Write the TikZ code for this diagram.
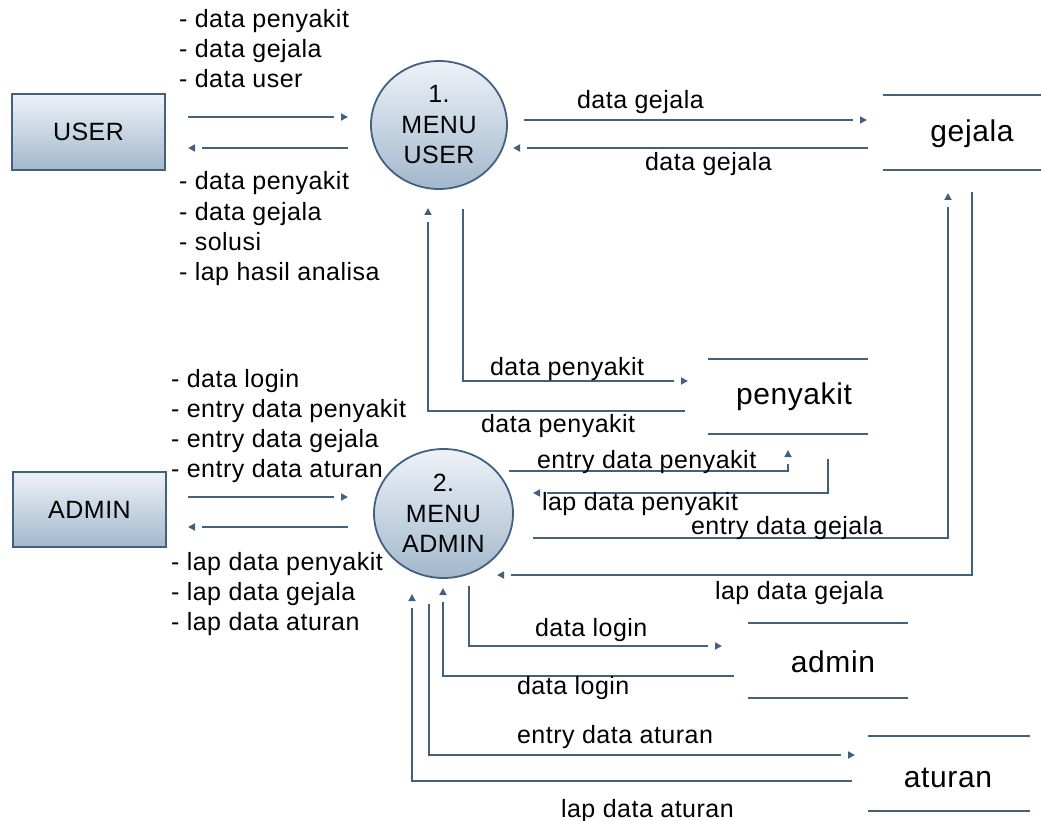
\documentclass[tikz,border=0pt]{standalone}
\usepackage{fontspec}
\setmainfont{Liberation Sans}[LetterSpace=2]
\usetikzlibrary{shapes.geometric,arrows.meta,calc,decorations.markings}
\definecolor{flowline}{HTML}{43617F}
\definecolor{shadetop}{HTML}{EEF2F8}
\definecolor{shadebot}{HTML}{A2B8CC}
\begin{document}
\begin{tikzpicture}[x=1pt,y=-1pt,
  every node/.style={inner sep=0pt, outer sep=0pt},
  entity/.style={rectangle, draw=flowline, line width=1.8pt,
    top color=shadetop, bottom color=shadebot,
    minimum width=153pt, minimum height=76pt,
    font=\fontsize{25}{30}\selectfont},
  process/.style={ellipse, draw=flowline, line width=1.8pt,
    top color=shadetop, bottom color=shadebot, align=center,
    font=\fontsize{25}{30.5}\selectfont},
  storebox/.style={minimum width=160pt, minimum height=75pt},
  storeline/.style={draw=flowline, line width=2.4pt},
  storetext/.style={anchor=base, font=\fontsize{30}{36}\selectfont},
  % a flow line stops short of its end; the tip is set on the end point
  flow/.style={draw=flowline, line width=1.7pt, shorten >=14pt,
    decoration={markings,
      mark=at position 1 with {\arrow[flowline]{Triangle[length=7pt,width=7pt]}}},
    postaction={decorate}},
  lbl/.style={anchor=base west, font=\fontsize{25}{30}\selectfont}
]
\useasboundingbox (0,0) rectangle (1041,821);

% external entities
\node[entity] (user)  at (88.5,132)   {USER};
\node[entity, minimum height=75pt] (admin) at (89.5,509.5) {ADMIN};

% processes
\node[process, minimum width=136pt, minimum height=128pt] (p1) at (439,125) {1.\\MENU\\USER};
\node[process, minimum width=139pt, minimum height=129pt] (p2) at (443.5,513.5) {2.\\MENU\\ADMIN};

% data stores
\node[storebox, minimum width=158pt] (gejala) at (962,132.5) {};
\node[storebox] (penyakit) at (788,396.5) {};
\node[storebox] (adminds) at (828,660.5) {};
\node[storebox, minimum width=162pt] (aturan) at (949,773.5) {};
\foreach \s in {gejala,penyakit,adminds,aturan}{
  \draw[storeline] (\s.north west) -- (\s.north east);
  \draw[storeline] (\s.south west) -- (\s.south east);
}
\node[storetext] (gejala-t)   at (972,142) {gejala};
\node[storetext] (penyakit-t) at (794,404) {penyakit};
\node[storetext] (adminds-t)  at (833,672) {admin};
\node[storetext] (aturan-t)   at (948,787) {aturan};

% flows between USER and process 1
\draw[flow] ($(user.east)+(23,-15)$) -- ($(p1.west)+(-23,-8)$);
\draw[flow] ($(p1.west)+(-23,23)$) -- ($(user.east)+(23,16)$);
% flows between ADMIN and process 2
\draw[flow] ($(admin.east)+(22,-12.5)$) -- ($(p2.west)+(-26,-16.5)$);
\draw[flow] ($(p2.west)+(-26,13.5)$) -- ($(admin.east)+(22,17.5)$);

% process 1 and the stores
\draw[flow] ($(p1.east)+(17,-5)$) -- ($(gejala.west)+(-16,-12.5)$);
\draw[flow] ($(gejala.west)+(-15,15.5)$) -- ($(p1.east)+(6,23)$);
\draw[flow] ($(p1.south)+(24,20)$) |- ($(penyakit.west)+(-20,-15.5)$);
\draw[flow] ($(penyakit.west)+(-23,14.5)$) -| ($(p1.south)+(-11,19)$);

% process 2 and the stores
\draw[flow] ($(gejala.south)+(10,22)$) |- ($(p2.east)+(-16,61.5)$);
\draw[flow] ($(p2.east)+(20,24.5)$) -| ($(gejala.south)+(-14,23)$);
\draw[flow] ($(p2.east)+(-4,-42.5)$) -| ($(penyakit.south)+(0,16)$);
\draw[flow] ($(penyakit.south)+(40,25)$) |- ($(p2.east)+(20,-20.5)$);
\draw[flow] ($(p2.south)+(25.5,8)$) |- ($(adminds.west)+(-26,-14.5)$);
\draw[flow] ($(adminds.west)+(-14,15.5)$) -| ($(p2.south)+(-0.5,10)$);
\draw[flow] ($(p2.south)+(-14.5,26)$) |- ($(aturan.west)+(-13,-18.5)$);
\draw[flow] ($(aturan.west)+(-16,7.5)$) -| ($(p2.south)+(-31.5,16)$);

% labels of the USER flows
\node[lbl] (ui1) at (179,28) {- data penyakit};
\node[lbl] (ui2) at (179,58) {- data gejala};
\node[lbl] (ui3) at (179,88) {- data user};
\node[lbl] (uo1) at (179,190) {- data penyakit};
\node[lbl] (uo2) at (179,220) {- data gejala};
\node[lbl] (uo3) at (179,250) {- solusi};
\node[lbl] (uo4) at (179,280) {- lap hasil analisa};

% labels of the ADMIN flows
\node[lbl] (ai1) at (171,387) {- data login};
\node[lbl] (ai2) at (171,417) {- entry data penyakit};
\node[lbl] (ai3) at (171,447) {- entry data gejala};
\node[lbl] (ai4) at (171,477) {- entry data aturan};
\node[lbl] (ao1) at (171,570) {- lap data penyakit};
\node[lbl] (ao2) at (171,600) {- lap data gejala};
\node[lbl] (ao3) at (171,630) {- lap data aturan};

% labels of the store flows
\node[lbl] (f1)  at (577,109) {data gejala};
\node[lbl] (f2)  at (645,171) {data gejala};
\node[lbl] (f3)  at (490,375) {data penyakit};
\node[lbl] (f4)  at (481,432) {data penyakit};
\node[lbl] (f5)  at (537,468) {entry data penyakit};
\node[lbl] (f6)  at (542,510) {lap data penyakit};
\node[lbl] (f7)  at (691,534) {entry data gejala};
\node[lbl] (f8)  at (715,599) {lap data gejala};
\node[lbl] (f9)  at (535,636) {data login};
\node[lbl] (f10) at (517,694) {data login};
\node[lbl] (f11) at (517,743) {entry data aturan};
\node[lbl] (f12) at (561,817) {lap data aturan};
\end{tikzpicture}
\end{document}
